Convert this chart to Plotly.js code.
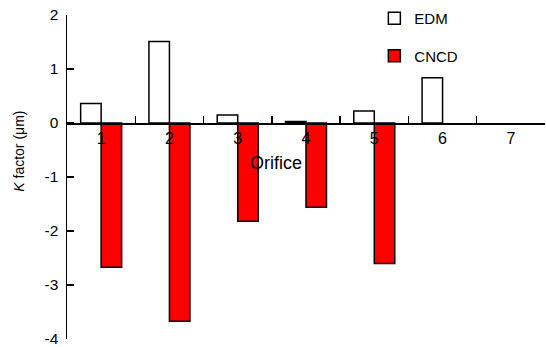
<!DOCTYPE html>
<html>
<head>
<meta charset="utf-8">
<script src="https://cdn.plot.ly/plotly-3.0.1.min.js"></script>
<style>html,body{margin:0;padding:0;background:#fff;}#chart{width:546px;height:347px;}</style>
</head>
<body>
<div id="chart"></div>
<script>
const orifices = ["1", "2", "3", "4", "5", "6", "7"];
const edmValues = [0.36, 1.51, 0.15, 0.03, 0.22, 0.84, null];
const cncdValues = [-2.67, -3.67, -1.82, -1.56, -2.6, null, null];
const yTicks = [-4, -3, -2, -1, 0, 1, 2];

const fam = '"Liberation Sans", Arial, sans-serif';
const f = (s) => ({family: fam, size: s, color: '#000'});

const traces = [
  {type: 'bar', name: 'EDM', x: orifices, y: edmValues, legendgroup: 'a',
   marker: {color: '#ffffff', line: {color: '#000', width: 1.5}}},
  {type: 'bar', name: 'CNCD', x: orifices, y: cncdValues, legendgroup: 'b',
   marker: {color: '#ff0000', line: {color: '#000', width: 1.5}}}
];

const layout = {
  width: 546, height: 347,
  margin: {l: 67, r: 1, t: 15, b: 8},
  paper_bgcolor: '#fff', plot_bgcolor: '#fff',
  font: f(15),
  barmode: 'group', bargap: 0.4, bargroupgap: 0,
  showlegend: true,
  legend: {x: 0.643, y: 1.04, xanchor: 'left', yanchor: 'top', bgcolor: 'rgba(0,0,0,0)',
           traceorder: 'grouped', tracegroupgap: 15, font: f(15)},
  xaxis: {type: 'category', range: [-0.5, 6.5], anchor: 'free', position: 4/6,
          tickson: 'boundaries', ticks: 'inside', ticklen: 7, tickwidth: 1.5, tickcolor: '#000',
          showline: true, linecolor: '#000', linewidth: 1.5, showgrid: false, zeroline: false,
          tickfont: f(16), fixedrange: true, ticklabeloverflow: 'allow'},
  yaxis: {range: [-4, 2], tickvals: yTicks, ticktext: yTicks.map(String),
          ticks: 'inside', ticklen: 7, tickwidth: 1.5, tickcolor: '#000',
          showline: true, linecolor: '#000', linewidth: 1.5, showgrid: false, zeroline: false,
          tickfont: f(15.5), ticklabelstandoff: 4, ticklabeloverflow: 'allow'},
  annotations: [
    {text: 'Orifice', xref: 'paper', yref: 'y', x: (276-67)/479, y: -0.74, showarrow: false,
     font: f(18), xanchor: 'center', yanchor: 'middle'},
    {text: '<i>K</i> factor (μm)', xref: 'paper', yref: 'y', x: (19-67)/479, y: -0.53, showarrow: false,
     textangle: -90, font: f(14), xanchor: 'center', yanchor: 'middle'}
  ]
};

Plotly.newPlot('chart', traces, layout, {displayModeBar: false, staticPlot: true});
</script>
</body>
</html>
